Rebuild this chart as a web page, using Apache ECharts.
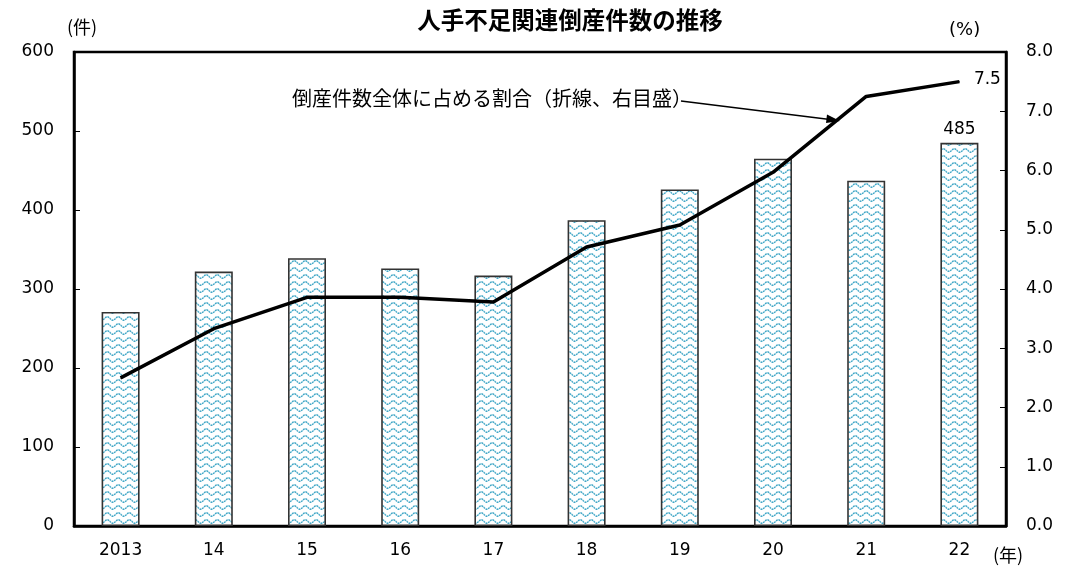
<!DOCTYPE html>
<html>
<head>
<meta charset="utf-8">
<script src="https://cdn.jsdelivr.net/npm/echarts@6/dist/echarts.min.js"></script>
<style>
html,body{margin:0;padding:0;background:#fff;}
#c{width:1076px;height:567px;}
</style>
</head>
<body>
<div id="c"></div>
<script>
const categories = ['2013','14','15','16','17','18','19','20','21','22'];
const bankruptcies = [271, 322, 339, 326, 317, 387, 426, 465, 437, 485];
const sharePct = [2.50, 3.33, 3.86, 3.86, 3.78, 4.71, 5.08, 5.97, 7.25, 7.5];
const leftTicks = [0, 100, 200, 300, 400, 500, 600];
const rightTicks = [0, 1, 2, 3, 4, 5, 6, 7, 8];

const FONT = '"DejaVu Sans", "Noto Sans CJK JP", sans-serif';
const CJK = '"Noto Sans CJK JP", sans-serif';

// wavy pattern tile
const tile = document.createElement('canvas');
tile.width = 11; tile.height = 7;
const g = tile.getContext('2d');
g.fillStyle = '#ffffff';
g.fillRect(0, 0, 11, 7);
g.strokeStyle = '#3fa6c6';
g.lineWidth = 1.4;
g.setLineDash([2, 0.7]);
g.beginPath();
for (let x = -0.5; x <= 11.5; x += 0.5) {
  const y = 3.5 + 1.7 * Math.sin(2 * Math.PI * x / 11);
  if (x === -0.5) g.moveTo(x, y); else g.lineTo(x, y);
}
g.stroke();

const chart = echarts.init(document.getElementById('c'), null, {renderer: 'canvas'});

const barData = bankruptcies.map((v, i) => i === bankruptcies.length - 1
  ? {value: v, label: {show: true, position: 'top', distance: 5, fontSize: 17, fontFamily: FONT, color: '#000'}}
  : v);
const lineData = sharePct.map((v, i) => i === sharePct.length - 1
  ? {value: v, label: {show: true, position: 'right', distance: 14, offset: [0, -2], fontSize: 17, fontFamily: FONT, color: '#000', formatter: '7.5'}}
  : v);

chart.setOption({
  animation: false,
  backgroundColor: '#fff',
  title: {
    text: '人手不足関連倒産件数の推移',
    left: 565, top: 3, textAlign: 'center',
    textStyle: {fontSize: 23.5, fontWeight: 'bold', fontFamily: CJK, color: '#000'}
  },
  grid: {left: 74, right: 70, top: 52, bottom: 41, show: true, borderColor: '#000', borderWidth: 2.5, backgroundColor: 'transparent'},
  xAxis: {
    type: 'category', data: categories,
    axisLine: {show: true, lineStyle: {color: '#000', width: 2.5}},
    axisTick: {show: false},
    axisLabel: {margin: 16, fontSize: 17, fontFamily: FONT, color: '#000'}
  },
  yAxis: [
    {
      type: 'value', min: 0, max: 600, interval: 100,
      axisLine: {show: true, lineStyle: {color: '#000', width: 2.5}},
      axisTick: {show: true, inside: true, length: 6, lineStyle: {color: '#000', width: 1}},
      splitLine: {show: false},
      axisLabel: {margin: 20, fontSize: 17, fontFamily: FONT, color: '#000',
        formatter: v => leftTicks.includes(v) ? String(v) : ''}
    },
    {
      type: 'value', min: 0, max: 8, interval: 1, position: 'right',
      axisLine: {show: true, lineStyle: {color: '#000', width: 2.5}},
      axisTick: {show: true, inside: true, length: 6, lineStyle: {color: '#000', width: 1}},
      splitLine: {show: false},
      axisLabel: {margin: 20, fontSize: 17, fontFamily: FONT, color: '#000',
        formatter: v => rightTicks.includes(v) ? v.toFixed(1) : ''}
    }
  ],
  series: [
    {
      type: 'bar', data: barData, barWidth: 38, yAxisIndex: 0,
      itemStyle: {color: {image: tile, repeat: 'repeat'}, borderColor: '#333', borderWidth: 1.6},
      z: 2
    },
    {
      type: 'line', data: lineData, yAxisIndex: 1,
      symbol: 'circle', symbolSize: 1, showSymbol: true,
      itemStyle: {color: '#000'},
      lineStyle: {color: '#000', width: 3.5},
      z: 3
    }
  ],
  graphic: [
    {type: 'text', left: 67, top: 18, style: {text: '(件)', fontSize: 18, fontFamily: CJK, fill: '#000'}},
    {type: 'text', left: 949, top: 21, style: {text: '(%)', fontSize: 18, fontFamily: FONT, fill: '#000'}},
    {type: 'text', left: 993, top: 546, style: {text: '(年)', fontSize: 18, fontFamily: CJK, fill: '#000'}},
    {type: 'text', left: 292, top: 88, style: {text: '倒産件数全体に占める割合（折線、右目盛）', fontSize: 20, fontFamily: CJK, fill: '#000'}},
    {type: 'line', shape: {x1: 681, y1: 101, x2: 834, y2: 120}, style: {stroke: '#000', lineWidth: 1.3}},
    {type: 'polygon', shape: {points: [[840, 121], [827, 114.5], [826, 123]]}, style: {fill: '#000'}}
  ]
});
</script>
</body>
</html>
